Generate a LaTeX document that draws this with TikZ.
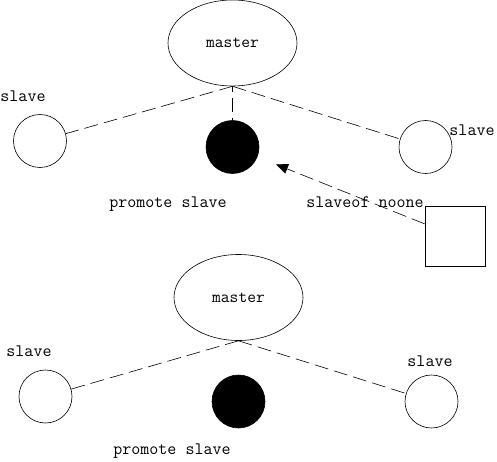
\documentclass[tikz,border=0pt]{standalone}
\usetikzlibrary{arrows.meta,shapes.geometric}
\begin{document}
\begin{tikzpicture}[x=1pt,y=-1pt,
  lbl/.style={font=\ttfamily\fontsize{17.5}{17.5}\selectfont, inner sep=0pt},
  mst/.style={draw, ellipse, minimum width=129pt, minimum height=86pt, inner sep=0pt, font=\ttfamily\fontsize{17}{17}\selectfont},
  sl/.style={draw, circle, minimum size=53pt, inner sep=0pt},
  psl/.style={draw, fill=black, circle, minimum size=53pt, inner sep=0pt},
  dsh/.style={dash pattern=on 14pt off 6pt, line width=0.6pt},
  thin/.style={line width=0.6pt}]
\useasboundingbox (0,0) rectangle (497,462);
% top group
\node[mst, thin] (m1) at (232.5,43) {master};
\node[sl, thin] (l1) at (40,141) {};
\node[psl, thin] (p1) at (232.5,147) {};
\node[sl, thin] (r1) at (425.5,147) {};
\coordinate (m1s) at (m1.south);
\draw[dsh] (m1s) -- (l1);
\draw[dsh] (m1s) -- (r1);
\draw[dsh, dash phase=8pt] (m1s) -- (p1);
\node[lbl] (tl1) at (23,96) {slave};
\node[lbl] (tr1) at (472,130) {slave};
\node[lbl] (tp1) at (168,204) {promote slave};
% square and arrow
\node[draw, thin, minimum size=60pt, inner sep=0pt] (sq) at (455,236) {};
\draw[dsh, -{Triangle[length=12pt,width=10pt]}, shorten >=20pt] (sq) -- (p1);
\node[lbl] (tso) at (365,202) {slaveof noone};
% bottom group
\node[mst, thin] (m2) at (238.5,297.5) {master};
\node[sl, thin] (l2) at (45.5,396.5) {};
\node[psl, thin] (p2) at (238.5,401.5) {};
\node[sl, thin] (r2) at (431.5,401.5) {};
\coordinate (m2s) at (m2.south);
\draw[dsh] (m2s) -- (l2);
\draw[dsh] (m2s) -- (r2);
\node[lbl] (tl2) at (29,351) {slave};
\node[lbl] (tr2) at (430,361) {slave};
\node[lbl] (tp2) at (172,451) {promote slave};
\end{tikzpicture}
\end{document}
